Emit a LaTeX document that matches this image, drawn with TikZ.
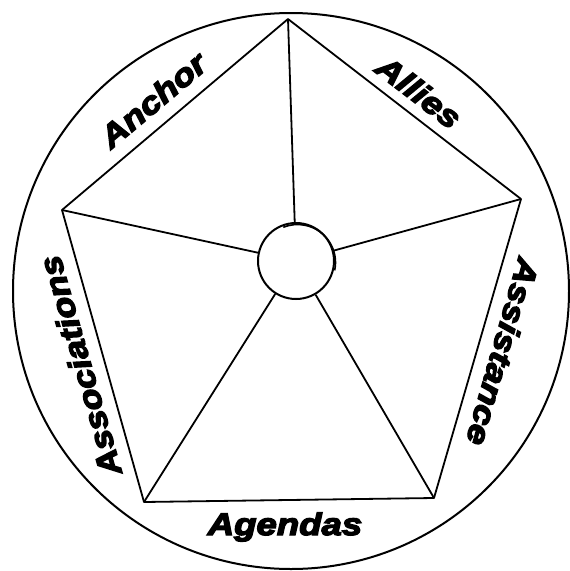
\documentclass[tikz,border=0pt]{standalone}
\usepackage{fontspec}
\setmainfont{Liberation Sans}
\newfontfamily\lblfont[FakeStretch=1.18,FakeBold=4.5]{Liberation Sans Bold Italic}
\begin{document}
\begin{tikzpicture}[x=1pt,y=-1pt,
  edge/.style={line width=1.8pt,line join=round},
  lbl/.style={inner sep=0pt,font=\lblfont\fontsize{31}{36}\selectfont}]
\useasboundingbox (0,0) rectangle (570,571);
% outer ring
\draw[line width=2pt] (291,291) circle[radius=278];
% pentagon vertices
\coordinate (T)  at (288,19);
\coordinate (R)  at (521,199);
\coordinate (BR) at (434,498);
\coordinate (BL) at (144,502);
\coordinate (L)  at (62,210);
\draw[edge] (T) -- (R) -- (BR) -- (BL) -- (L) -- cycle;
% hub
\node[circle,draw,line width=2pt,minimum size=76pt,inner sep=0pt,fill=white] (hub) at (296,261) {};
\draw[line width=1.6pt] (297.5,262.5) ++(12:38) arc[start angle=12,end angle=-112,radius=38];
% spokes
\foreach \v in {T,R,BR,BL,L} \draw[edge] (\v) -- (hub);
% labels
\node[lbl,rotate=40]   (anchor) at (153,100) {Anchor};
\node[lbl,rotate=-37.5] (allies) at (419,92) {Allies};
\node[lbl,rotate=-106] (assist) at (503,352) {Assistance};
\node[lbl,rotate=106]  (assoc)  at (80,366) {Associations};
\node[lbl,anchor=base] (agenda) at (285,535) {Agendas};
\end{tikzpicture}
\end{document}
